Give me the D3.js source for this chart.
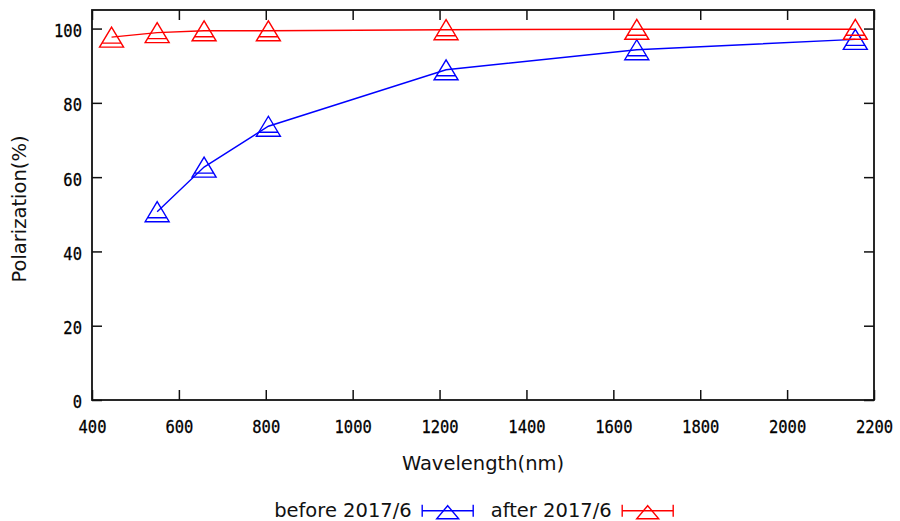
<!DOCTYPE html>
<html>
<head>
<meta charset="utf-8">
<script src="https://cdn.jsdelivr.net/npm/d3@7"></script>
<style>
  html, body { margin: 0; padding: 0; background: #fff; }
  svg { display: block; }
</style>
</head>
<body>
<svg id="chart" width="900" height="521"></svg>
<script>
// Polarization vs wavelength, before and after 2017/6
const wavelengthBefore = [550, 658, 806, 1215, 1654, 2157];
const polarizationBefore = [50.7, 62.7, 73.7, 88.9, 94.3, 97.1];
const wavelengthAfter = [445, 550, 658, 806, 1215, 1654, 2157];
const polarizationAfter = [97.7, 98.9, 99.4, 99.4, 99.7, 99.8, 99.8];

const xTicks = [400, 600, 800, 1000, 1200, 1400, 1600, 1800, 2000, 2200];
const yTicks = [0, 20, 40, 60, 80, 100];
const seriesNames = ["before 2017/6", "after 2017/6"];
const seriesColors = ["#0000ff", "#ff0000"];

const W = 900, H = 521;
const margin = { top: 10, right: 26, bottom: 121, left: 92 };
const iw = W - margin.left - margin.right;
const ih = H - margin.top - margin.bottom;

const svg = d3.select("#chart");
const g = svg.append("g").attr("transform", `translate(${margin.left},${margin.top})`);

const x = d3.scaleLinear().domain([400, 2200]).range([0, iw]);
const y = d3.scaleLinear().domain([0, 105]).range([ih, 0]);

const tickFont = "'DejaVu Sans Mono', monospace";
const labelFont = "'DejaVu Sans', sans-serif";
const sx = 0.86; // narrow tick digits

// axes with inward ticks, mirrored on top and right
const axisB = g.append("g").attr("transform", `translate(0,${ih})`)
  .call(d3.axisBottom(x).tickValues(xTicks).tickSizeInner(-10).tickSizeOuter(0).tickFormat(d3.format("d")));
const axisT = g.append("g")
  .call(d3.axisTop(x).tickValues(xTicks).tickSizeInner(-10).tickSizeOuter(0).tickFormat(""));
const axisL = g.append("g")
  .call(d3.axisLeft(y).tickValues(yTicks).tickSizeInner(-10).tickSizeOuter(0).tickFormat(d3.format("d")));
const axisR = g.append("g").attr("transform", `translate(${iw},0)`)
  .call(d3.axisRight(y).tickValues(yTicks).tickSizeInner(-10).tickSizeOuter(0).tickFormat(""));

[axisB, axisT, axisL, axisR].forEach(a => {
  a.select(".domain").remove();
  a.selectAll(".tick line").attr("stroke", "#111").attr("stroke-width", 1.5);
});

axisB.selectAll(".tick text")
  .attr("font-family", tickFont).attr("font-size", 18).attr("fill", "#000")
  .attr("y", 33.5).attr("dy", 0)
  .attr("stroke", "#000").attr("stroke-width", 0.3)
  .attr("transform", `scale(${sx},1)`);
axisL.selectAll(".tick text")
  .attr("font-family", tickFont).attr("font-size", 18).attr("fill", "#000")
  .attr("x", -10 / sx).attr("dy", "0.44em")
  .attr("stroke", "#000").attr("stroke-width", 0.3)
  .attr("transform", `scale(${sx},1)`);

// frame
g.append("rect").attr("x", 0).attr("y", 0).attr("width", iw).attr("height", ih)
  .attr("fill", "none").attr("stroke", "#111").attr("stroke-width", 1.8);

// axis titles
g.append("text")
  .attr("x", iw / 2).attr("y", 470 - margin.top)
  .attr("text-anchor", "middle")
  .attr("font-family", labelFont).attr("font-size", 19.5).attr("fill", "#111")
  .text("Wavelength(nm)");
svg.append("text")
  .attr("transform", "translate(26,209) rotate(-90)")
  .attr("text-anchor", "middle")
  .attr("font-family", labelFont).attr("font-size", 19.5).attr("fill", "#111")
  .text("Polarization(%)");

// triangle marker with an inner line near its base
function triangle(hw, hh) {
  const p = d3.path();
  p.moveTo(0, -hh);
  p.lineTo(hw, hh);
  p.lineTo(-hw, hh);
  p.closePath();
  const yi = hh * 0.6;
  const wi = hw * (yi + hh) / (2 * hh);
  p.moveTo(-wi, yi);
  p.lineTo(wi, yi);
  return p.toString();
}

const series = [
  { xs: wavelengthBefore, ys: polarizationBefore },
  { xs: wavelengthAfter, ys: polarizationAfter }
];

const line = d3.line().x(d => x(d[0])).y(d => y(d[1]));

series.forEach((s, i) => {
  const pts = s.xs.map((v, j) => [v, s.ys[j]]);
  g.append("path").datum(pts)
    .attr("d", line)
    .attr("fill", "none").attr("stroke", seriesColors[i]).attr("stroke-width", 1.4);
  g.selectAll(null).data(pts).enter().append("path")
    .attr("transform", d => `translate(${x(d[0])},${y(d[1])})`)
    .attr("d", triangle(12, 10))
    .attr("fill", "none").attr("stroke", seriesColors[i]).attr("stroke-width", 1.4);
});

// legend
const legendRight = [411.7, 611.7];
const legend = svg.append("g");
seriesNames.forEach((name, i) => {
  const tx = legendRight[i];
  legend.append("text")
    .attr("x", tx).attr("y", 517)
    .attr("text-anchor", "end")
    .attr("font-family", labelFont).attr("font-size", 19.5).attr("fill", "#111")
    .text(name);
  const x0 = tx + 10.5, x1 = tx + 61.5, ly = 510.7, xm = (x0 + x1) / 2;
  const c = seriesColors[i];
  legend.append("line").attr("x1", x0).attr("x2", x1).attr("y1", ly).attr("y2", ly)
    .attr("stroke", c).attr("stroke-width", 1.4);
  [x0, x1].forEach(xc => legend.append("line")
    .attr("x1", xc).attr("x2", xc).attr("y1", ly - 6).attr("y2", ly + 6)
    .attr("stroke", c).attr("stroke-width", 1.4));
  const p = d3.path();
  p.moveTo(xm, ly - 5); p.lineTo(xm + 11, ly + 8); p.lineTo(xm - 11, ly + 8); p.closePath();
  legend.append("path").attr("d", p.toString())
    .attr("fill", "none").attr("stroke", c).attr("stroke-width", 1.4);
});
</script>
</body>
</html>
